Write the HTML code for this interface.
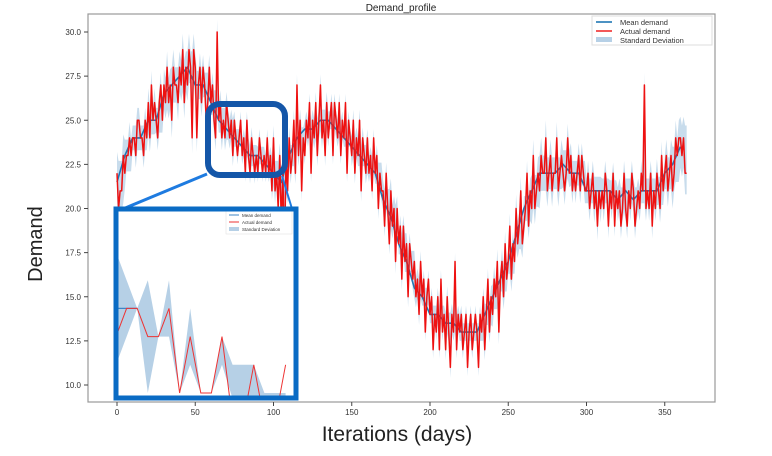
<!DOCTYPE html>
<html><head><meta charset="utf-8"><style>
html,body{margin:0;padding:0;background:#fff;width:772px;height:456px;overflow:hidden}
svg{display:block;font-family:"Liberation Sans",sans-serif}
</style></head><body>
<svg id="chart" width="772" height="456"></svg>
<script>
const actual=[22,20,21,21,23,22,23,23,24,23,24,24,23,25,25,24,24,23,25,24,26,24,27,25,26,25,24,26,27,25,27,26,28,26,27,25,28,27,27,26,28,27,29,26,28,27,29,28,24,29,28,24,27,28,26,28,27,25,26,28,26,27,25,24,30,25,26,24,25,24,26,25,24,25,23,25,24,23,24,25,23,24,22,25,23,22,24,23,22,23,22,24,23,22,23,22,24,22,23,21,24,21,22,20,23,19,22,17,23,21,24,22,23,25,22,27,23,25,21,24,23,25,24,26,22,25,24,26,23,25,27,24,25,23,26,24,25,26,23,26,25,24,26,23,25,24,26,22,25,24,23,25,22,24,23,25,21,24,23,22,24,22,23,21,24,22,23,20,22,21,21,19,22,20,18,21,19,20,17,20,18,19,16,19,17,18,15,18,17,16,17,15,16,14,17,15,16,13,15,16,14,15,12,14,13,15,12,16,13,14,12,15,13,11,14,13,17,12,14,13,14,12,13,14,11,13,14,12,13,14,13,11,14,13,15,12,14,16,13,15,14,16,15,17,13,16,17,15,18,16,17,19,16,18,17,20,18,19,21,18,19,20,22,19,21,20,23,20,21,22,21,23,22,22,24,21,22,23,21,22,22,24,21,22,23,22,21,22,24,22,23,21,22,21,22,23,21,23,22,21,21,22,20,21,22,20,21,19,21,20,21,20,22,21,19,21,20,22,19,21,20,21,19,20,22,20,19,21,20,22,21,19,20,21,20,22,21,27,20,21,20,22,19,21,20,22,21,20,23,21,22,23,21,22,23,21,22,24,23,24,24,23,24,22,22];
const meanDays=[0,5,10,15,20,25,30,35,40,45,50,55,60,65,70,75,80,85,90,95,100,105,110,115,120,125,130,135,140,145,150,155,160,165,170,175,180,185,190,195,200,205,210,215,220,225,230,235,240,245,250,255,260,265,270,275,280,285,290,295,300,305,310,315,320,325,330,335,340,345,350,355,360];
const meanVals=[21.5,23,24,24,25,25,26.5,27,27.5,28,27,27,26,25,24.5,24,23.5,23,23,22.5,22,21.5,23,24,24.5,24.5,25,25,24.5,24,23.5,23,22.5,22,20.5,19.5,18,17,15.5,15,14,14,13.5,13.5,13,13,13,14,15,16,17,18.5,20,21,22,22,22,22.5,22,22,21,21,21,21,20.5,21,20.5,21,21,21,22,22.5,23.5];
const stdVals=[1.2,0.9,0.7,0.7,0.8,0.7,0.9,1,0.9,0.9,0.8,0.7,0.7,0.7,0.6,0.5,0.5,0.6,0.5,0.5,0.7,0.7,0.6,0.6,0.5,0.6,0.6,0.5,0.5,0.5,0.6,0.6,0.5,0.6,0.6,0.7,0.6,0.6,0.6,0.5,0.5,0.5,0.6,0.5,0.5,0.5,0.5,0.6,0.7,0.7,0.7,0.8,0.7,0.9,1,0.9,0.9,0.8,0.7,0.7,0.7,0.8,0.7,0.6,0.7,0.7,0.7,0.7,0.7,0.8,0.9,1,1.2];
const xTicks=[0,50,100,150,200,250,300,350];
const yTicks=[10,12.5,15,17.5,20,22.5,25,27.5,30];
const insetActual=[2,3,3,2,2,3,0,2,0,0,2,-1,-1,1,-1,-1,1];
const insetUpper=[5,4,3,4,2,4,0,3,0,0,2,1,1,1,0,0,0];
const insetLower=[1,2,3,0,2,2,0,1,0,0,1,-0.2,-0.2,-0.2,-0.2,-0.2,-0.2];
const insetMean=[3,3,3];

const NS="http://www.w3.org/2000/svg";
const svg=document.getElementById('chart');
function el(t,a,p){const e=document.createElementNS(NS,t);for(const k in a)e.setAttribute(k,a[k]);(p||svg).appendChild(e);return e;}
const X=d=>117+d*1.565;
const Y=v=>385-(v-10)*17.65;

const frame=el('rect',{x:88,y:14,width:627,height:388,fill:'#fff',stroke:'#999','stroke-width':1.2});


const title=el('text',{x:401,y:11,'font-size':10,'text-anchor':'middle',fill:'#222'});
title.textContent='Demand_profile';



const meanAt=d=>Math.min(Math.floor(d/5),meanDays.length-1);
let up=[],lo=[];
actual.forEach((v,d)=>{const s=stdVals[meanAt(d)];const m=meanVals[meanAt(d)];up.push([X(d),Y(Math.max(v,m)+s)]);lo.push([X(d),Y(Math.min(v,m)-s)]);});
const band=el('polygon',{points:up.concat(lo.reverse()).map(p=>p.join(',')).join(' '),fill:'#b6d0e6',opacity:0.75});


const mean=el('polyline',{points:meanDays.map((d,i)=>X(d)+','+Y(meanVals[i])).join(' '),fill:'none',stroke:'#1f77b4','stroke-width':1.6});


const act=el('polyline',{points:actual.map((v,d)=>X(d)+','+Y(v)).join(' '),fill:'none',stroke:'#ee1111','stroke-width':1.5,'stroke-linejoin':'round'});



xTicks.forEach(t=>{const l=el('line',{x1:X(t),x2:X(t),y1:402,y2:406,stroke:'#444'});


const tx=el('text',{x:X(t),y:415,'font-size':8,'text-anchor':'middle',fill:'#333'});tx.textContent=t;

});
yTicks.forEach(t=>{const l=el('line',{x1:84,x2:88,y1:Y(t),y2:Y(t),stroke:'#444'});


const tx=el('text',{x:81,y:Y(t)+3,'font-size':8,'text-anchor':'end',fill:'#333'});tx.textContent=t.toFixed(1);

});

const lg=el('g',{});


el('rect',{x:592,y:16,width:120,height:29,fill:'#fff',stroke:'#ddd'},lg);
el('line',{x1:596,x2:612,y1:22,y2:22,stroke:'#1f77b4','stroke-width':1.6},lg);
el('line',{x1:596,x2:612,y1:31,y2:31,stroke:'#ee1111','stroke-width':1.4},lg);
el('rect',{x:596,y:37,width:16,height:5,fill:'#b6d0e6'},lg);
[['Mean demand',25],['Actual demand',34],['Standard Deviation',43]].forEach(([s,y])=>{const t=el('text',{x:620,y:y,'font-size':7.5,fill:'#333'},lg);t.textContent=s;});

const yl=el('text',{x:42,y:244,'font-size':20,'text-anchor':'middle',fill:'#222',transform:'rotate(-90 42 244)'});yl.textContent='Demand';


const xl=el('text',{x:397,y:441,'font-size':21,'text-anchor':'middle',fill:'#222'});xl.textContent='Iterations (days)';



const hl=el('rect',{x:208,y:104,width:77,height:71,rx:12,fill:'none',stroke:'#1456a8','stroke-width':6});


const c1=el('line',{x1:207,y1:174,x2:118,y2:211,stroke:'#1e7be0','stroke-width':3});


const c2=el('line',{x1:282,y1:176,x2:293,y2:212,stroke:'#1e7be0','stroke-width':2});



const ig=el('g',{});


el('rect',{x:116,y:209,width:180,height:189,fill:'#fff'},ig);
el('clipPath',{id:'ic'},ig);
el('rect',{x:116,y:209,width:180,height:189},document.getElementById('ic'));
const IX=i=>116+i*10.6, IY=v=>393-v*28.2;
const iu=insetUpper.map((v,i)=>IX(i)+','+IY(v)), il=insetLower.map((v,i)=>IX(i)+','+IY(v)).reverse();
el('polygon',{points:iu.concat(il).join(' '),fill:'#b6d0e6','clip-path':'url(#ic)'},ig);
el('polyline',{points:insetMean.map((v,i)=>IX(i)+','+IY(v)).join(' '),fill:'none',stroke:'#3d85c6','stroke-width':1.2},ig);
el('polyline',{points:insetActual.map((v,i)=>IX(i)+','+IY(v)).join(' '),fill:'none',stroke:'#e33','stroke-width':1,'clip-path':'url(#ic)'},ig);
el('rect',{x:226,y:211,width:66,height:23,fill:'#fff',stroke:'#ddd','stroke-width':0.5},ig);
el('line',{x1:229,x2:239,y1:215,y2:215,stroke:'#3d85c6'},ig);
el('line',{x1:229,x2:239,y1:222,y2:222,stroke:'#e33'},ig);
el('rect',{x:229,y:227,width:10,height:4,fill:'#b6d0e6'},ig);
[['Mean demand',217],['Actual demand',224],['Standard Deviation',231]].forEach(([s,y])=>{const t=el('text',{x:242,y:y,'font-size':4.5,fill:'#333'},ig);t.textContent=s;});
el('rect',{x:116,y:209,width:180,height:189,fill:'none',stroke:'#0a6bc4','stroke-width':5},ig);
</script>
</body></html>
